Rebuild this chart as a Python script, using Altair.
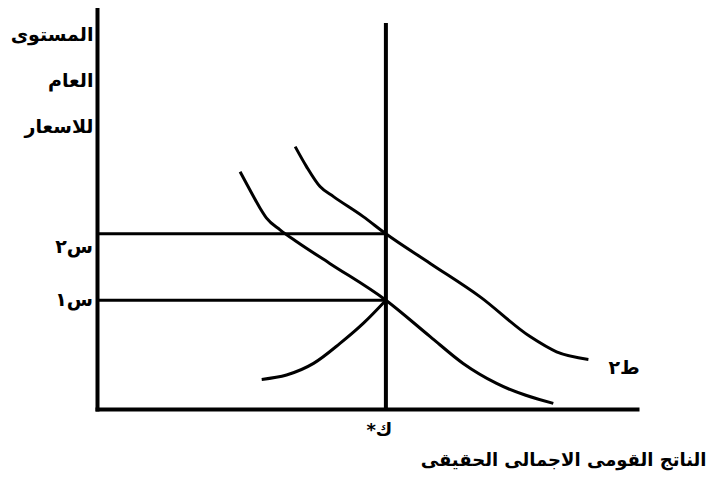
import altair as alt
import pandas as pd

# ---- data (arbitrary units: real GDP 0-100 on x, price level 0-100 on y) ----
ad1_x = [26.5, 28.3, 30.2, 31.4, 33.9, 37.0, 43.1, 53.5, 61.7, 67.8, 74.0, 84.5]
ad1_y = [59.3, 54.8, 50.2, 47.7, 44.8, 41.8, 36.4, 27.2, 18.1, 11.4, 6.4, 1.4]
ad2_x = [36.7, 38.8, 41.3, 43.8, 49.3, 53.5, 61.7, 70.9, 80.2, 85.1, 91.0]
ad2_y = [65.6, 60.6, 55.6, 53.1, 48.1, 43.8, 36.4, 28.1, 18.1, 14.3, 12.4]
sras_x = [30.5, 35.1, 40.1, 45.0, 49.3, 53.5]
sras_y = [7.4, 8.5, 11.4, 16.4, 21.4, 27.2]
lras_x = 53.5
lras_top = 96.5
p2 = 43.8
p1 = 27.2

y_title = ["المستوى", "العام", "للاسعار"]
x_title = "الناتج القومى الاجمالى الحقيقى"
p2_label = "س٢"
p1_label = "س١"
k_label = "*ك"
ad2_label = "ط٢"

FONT = "DejaVu Sans"

rows = []
for name, xs, ys in [("ad1", ad1_x, ad1_y), ("ad2", ad2_x, ad2_y), ("sras", sras_x, sras_y)]:
    for i, (a, b) in enumerate(zip(xs, ys)):
        rows.append({"curve": name, "i": i, "x": a, "y": b})
curves = pd.DataFrame(rows)

xs = alt.Scale(domain=[0, 100], nice=False, zero=False)
ys = alt.Scale(domain=[0, 100], nice=False, zero=False)

x_axis = alt.Axis(
    values=[lras_x], labelExpr="'" + k_label + "'", ticks=False, grid=False,
    domainWidth=4, domainColor="black", domainCap="square",
    labelFont=FONT, labelFontSize=18, labelFontWeight="bold", labelColor="black",
    labelPadding=12, labelOffset=-7,
    title=x_title, titleFont=FONT, titleFontSize=18, titleFontWeight="bold",
    titleColor="black", titleX=609, titleY=56, titleAlign="right",
    titleBaseline="alphabetic", titleAnchor="start",
)
y_axis = alt.Axis(
    labels=False, ticks=False, grid=False,
    domainWidth=4, domainColor="black", domainCap="square",
    title=y_title, titleFont=FONT, titleFontSize=19, titleFontWeight="bold",
    titleColor="black", titleAngle=0, titleAlign="right", titleBaseline="alphabetic",
    titleX=-4, titleY=31, titleLineHeight=46, titleAnchor="start",
)

base_curves = alt.Chart(curves).mark_line(
    color="black", strokeWidth=3, interpolate="monotone"
).encode(
    x=alt.X("x:Q", scale=xs, axis=x_axis),
    y=alt.Y("y:Q", scale=ys, axis=y_axis),
    detail="curve:N",
    order="i:Q",
)

lras = alt.Chart(pd.DataFrame({"x": [lras_x], "y": [0], "y2": [lras_top]})).mark_rule(
    color="black", strokeWidth=4
).encode(x=alt.X("x:Q", scale=xs), y=alt.Y("y:Q", scale=ys), y2="y2:Q")

hlines = alt.Chart(pd.DataFrame({"x": [0, 0], "x2": [lras_x, lras_x], "y": [p2, p1]})).mark_rule(
    color="black", strokeWidth=3
).encode(x=alt.X("x:Q", scale=xs), x2="x2:Q", y=alt.Y("y:Q", scale=ys))

txt = dict(font=FONT, fontSize=19, fontWeight="bold", color="black")

lab_p2 = alt.Chart(pd.DataFrame({"x": [0], "y": [p2], "t": [p2_label]})).mark_text(
    align="right", baseline="middle", dx=-4, dy=13, **txt
).encode(x=alt.X("x:Q", scale=xs), y=alt.Y("y:Q", scale=ys), text="t:N")

lab_p1 = alt.Chart(pd.DataFrame({"x": [0], "y": [p1], "t": [p1_label]})).mark_text(
    align="right", baseline="middle", dx=-4, dy=0, **txt
).encode(x=alt.X("x:Q", scale=xs), y=alt.Y("y:Q", scale=ys), text="t:N")

lab_ad2 = alt.Chart(pd.DataFrame({"x": [ad2_x[-1]], "y": [ad2_y[-1]], "t": [ad2_label]})).mark_text(
    align="left", baseline="middle", dx=20, dy=9, **txt
).encode(x=alt.X("x:Q", scale=xs), y=alt.Y("y:Q", scale=ys), text="t:N")

chart = alt.layer(base_curves, lras, hlines, lab_p2, lab_p1, lab_ad2).properties(
    width=540, height=400,
    autosize=alt.AutoSizeParams(type="none"),
    padding={"left": 89, "top": 1, "right": 77, "bottom": 69},
    background="white",
).configure_view(stroke=None)

chart.save("out.html", embed_options={"renderer": "svg", "actions": False})
